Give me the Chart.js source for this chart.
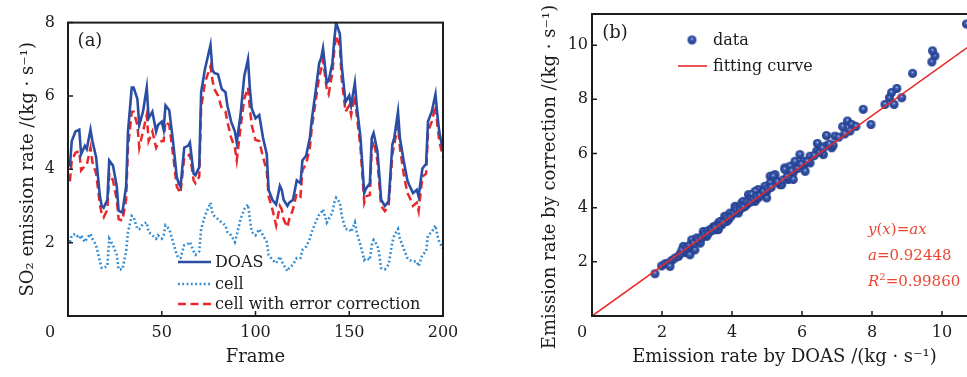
<!DOCTYPE html>
<html>
<head>
<meta charset="utf-8">
<script src="https://cdn.jsdelivr.net/npm/chart.js@4.4.1/dist/chart.umd.min.js"></script>
<style>
  html, body { margin: 0; padding: 0; background: #fff; overflow: hidden; width: 967px; height: 377px; }
  #wrapA { position: absolute; left: 0; top: 0; width: 480px; height: 377px; }
  #wrapB { position: absolute; left: 480px; top: 0; width: 530px; height: 377px; }
  canvas { display: block; }
</style>
</head>
<body>
<div id="wrapA"><canvas id="chartA" width="480" height="377"></canvas></div>
<div id="wrapB"><canvas id="chartB" width="530" height="377"></canvas></div>
<script>
// ---- (a) SO2 emission rate per frame ----
const frames = [1,2,4,6,7,9,10,12,13,15,
  17,18,19,21,22,24,26,27,29,31,
  32,34,35,37,38,40,42,43,45,47,
  48,50,51,52,54,56,58,59,60,62,
  64,65,67,68,70,71,73,76,77,78,
  80,82,84,85,87,89,90,92,94,96,
  97,98,100,102,104,106,107,109,111,113,
  114,115,117,118,120,122,124,125,127,129,
  130,132,134,135,136,138,139,141,142,143,
  145,146,148,150,151,153,154,156,158,159,
  161,162,163,165,166,167,169,171,173,174,
  176,177,179,181,182,184,186,187,189,191,
  192,194,196,197,198,200];

const doasRate = [4.07,4.77,5.03,5.08,4.41,4.64,4.55,5.08,4.77,4.33,
  3.27,3.00,2.95,3.17,4.24,4.10,3.54,2.87,2.82,3.54,
  5.03,6.23,6.23,5.92,5.21,5.57,6.23,5.39,5.57,5.03,
  5.21,5.30,5.08,5.74,5.61,4.77,3.80,3.62,3.53,4.59,
  4.64,4.73,3.88,3.84,4.06,6.10,6.72,7.39,6.72,6.63,
  6.59,6.19,6.10,5.74,5.30,5.03,4.73,5.48,6.54,7.00,
  6.19,5.66,5.39,5.48,4.86,4.41,3.44,3.17,3.04,3.55,
  3.44,3.17,3.00,3.09,3.17,3.70,3.62,4.24,4.37,4.86,
  5.35,6.10,6.90,7.03,7.30,6.36,6.41,6.90,7.52,8.00,
  7.69,6.81,5.83,6.01,5.74,6.36,5.74,4.86,3.35,3.48,
  3.62,4.86,4.99,4.50,3.88,3.17,3.00,3.13,4.68,4.86,
  5.57,4.86,4.24,3.70,3.57,3.35,3.44,3.26,4.02,4.15,
  5.30,5.57,6.05,5.48,5.03,4.50];

const cellRate = [2.02,2.20,2.24,2.11,2.20,2.02,2.11,2.24,2.11,1.93,
  1.49,1.31,1.31,1.36,2.11,1.93,1.67,1.27,1.27,1.76,
  2.29,2.73,2.70,2.37,2.37,2.51,2.55,2.29,2.20,2.11,
  2.20,2.11,2.20,2.47,2.37,2.02,1.67,1.58,1.58,1.93,
  1.97,2.02,1.76,1.67,1.76,2.37,2.73,3.09,2.82,2.73,
  2.64,2.55,2.47,2.29,2.20,2.02,2.20,2.64,2.91,3.04,
  2.64,2.29,2.20,2.37,2.20,2.02,1.67,1.53,1.44,1.62,
  1.49,1.40,1.22,1.31,1.40,1.58,1.58,1.80,1.89,2.11,
  2.29,2.55,2.77,2.82,2.91,2.55,2.64,2.82,3.09,3.22,
  3.09,2.73,2.37,2.37,2.29,2.55,2.29,1.93,1.53,1.58,
  1.53,1.93,2.07,1.93,1.67,1.31,1.27,1.40,2.02,2.20,
  2.37,2.11,1.84,1.58,1.53,1.49,1.49,1.36,1.67,1.76,
  2.20,2.29,2.47,2.20,2.02,1.84];

const correctedRate = [3.67,4.24,4.45,4.50,3.97,4.10,4.12,4.59,4.20,3.88,
  3.05,2.77,2.69,2.90,3.88,3.70,3.17,2.64,2.60,3.17,
  4.59,5.57,5.57,5.21,4.59,5.03,5.48,4.77,5.03,4.59,
  4.70,4.77,4.77,5.30,5.21,4.41,3.53,3.44,3.35,4.33,
  4.37,4.41,3.70,3.62,3.80,5.66,6.36,6.81,6.45,6.19,
  6.01,5.66,5.57,5.30,4.86,4.59,4.24,5.12,5.92,6.23,
  5.66,5.20,4.80,4.77,4.33,3.97,3.26,2.91,2.47,3.00,
  2.91,2.64,2.42,2.64,2.91,3.35,3.26,3.97,4.15,4.59,
  5.12,5.83,6.54,6.72,6.99,6.19,6.05,6.63,7.25,7.65,
  7.34,6.45,5.57,5.74,5.48,6.01,5.48,4.59,3.09,3.26,
  3.30,4.59,4.77,4.24,3.62,3.00,2.86,3.00,4.41,4.68,
  5.21,4.59,3.88,3.35,3.26,3.00,3.09,2.86,3.80,3.88,
  5.03,5.30,5.74,5.21,4.77,4.33];

const seriesNames = ['DOAS', 'cell', 'cell with error correction'];
const frameTicks = [0, 50, 100, 150, 200];
const rateTicksA = [0, 2, 4, 6, 8];

// ---- (b) corrected rate against DOAS rate ----
const scatterDoas = [1.80,1.99,2.09,2.18,2.28,2.23,2.37,2.47,2.61,2.66,
  2.75,2.85,2.80,2.94,2.99,3.09,3.18,3.28,3.37,3.47,
  3.56,3.61,3.71,3.80,3.90,3.99,4.09,4.18,4.28,4.37,
  4.47,4.56,4.66,4.75,4.89,4.99,5.09,5.23,5.37,5.51,
  5.18,5.28,5.42,5.09,4.94,4.99,4.85,4.66,4.56,4.75,
  4.51,4.32,4.42,4.23,4.09,4.18,3.94,3.80,3.85,3.66,
  3.51,3.47,3.61,3.28,3.18,3.09,5.51,5.66,5.80,5.75,
  5.61,5.75,6.04,6.09,5.94,6.04,6.23,6.23,6.42,6.61,
  6.44,6.66,6.85,6.70,6.94,6.89,7.16,7.30,7.42,7.37,
  7.54,7.75,7.97,8.37,8.50,8.56,8.71,8.63,8.85,9.16,
  9.71,9.80,9.73,10.70,
  2.52,2.57,2.70,2.78,2.90,3.02,3.12,3.22,3.32,3.42,
  3.52,3.66,3.75,3.86,3.96,4.05,4.14,4.24,4.33,4.42,
  4.52,4.61,4.70,4.80,4.90,5.02,5.12,5.30,5.45,5.58,
  5.70,5.88,5.98,6.15,6.35,6.50,6.58,6.78,7.05,7.22];

const scatterCorrected = [1.56,1.85,1.93,1.95,2.05,1.83,2.14,2.20,2.57,2.34,
  2.44,2.81,2.26,2.44,2.88,2.75,3.12,2.94,3.19,3.29,
  3.19,3.43,3.37,3.68,3.56,3.74,4.05,3.86,4.17,4.05,
  4.48,4.36,4.23,4.67,4.54,4.36,5.16,5.22,4.85,5.47,
  5.16,4.97,4.85,4.91,4.79,4.60,4.54,4.60,4.48,4.36,
  4.30,4.23,4.11,4.05,3.99,3.80,3.80,3.68,3.49,3.49,
  3.31,3.19,3.19,3.12,2.94,2.69,5.41,5.53,5.71,5.29,
  5.04,5.04,5.53,5.34,5.96,5.71,5.90,5.65,6.09,5.96,
  6.37,6.27,6.21,6.66,6.64,6.30,6.99,7.20,7.07,6.83,
  7.00,7.63,7.07,7.81,8.06,8.25,8.40,7.81,8.06,8.96,
  9.38,9.60,9.79,10.78,
  2.30,2.43,2.52,2.60,2.68,2.80,2.90,3.00,3.05,3.15,
  3.25,3.35,3.45,3.62,3.66,3.80,3.92,3.95,4.02,4.20,
  4.20,4.30,4.40,4.45,4.60,4.70,4.75,4.95,5.02,5.15,
  5.35,5.45,5.60,5.70,5.92,6.05,6.20,6.35,6.60,6.72];

const fitSlope = 0.92448;
const fitR2 = 0.99860;
const fitX = [0, 11];
const doasTicksB = [0, 2, 4, 6, 8, 10];

// ---- shared styling ----
const SERIF = '"DejaVu Serif", "Liberation Serif", serif';
const INK = '#1c1c1c';
const BLUE = '#2b4ea5';
const SKY = '#2e8bd2';
const RED = '#e8282b';
const NOTE_RED = '#ea4633';

// shaded round marker used for the scatter points
function shadedDot(r) {
  const s = Math.ceil(r * 2) + 2;
  const c = document.createElement('canvas');
  c.width = s; c.height = s;
  const g = c.getContext('2d');
  const cx = s / 2, cy = s / 2;
  const grad = g.createRadialGradient(cx - r * 0.05, cy - r * 0.3, r * 0.02, cx, cy, r);
  grad.addColorStop(0, '#f2f5fb');
  grad.addColorStop(0.16, '#5d7cc6');
  grad.addColorStop(0.45, '#3353a8');
  grad.addColorStop(1, '#213b8a');
  g.fillStyle = grad;
  g.beginPath(); g.arc(cx, cy, r, 0, Math.PI * 2); g.fill();
  return c;
}
const dotImg = shadedDot(4.5);

// closed frame around the plot area with inward ticks on the left and bottom axes
const frameBox = {
  id: 'frameBox',
  afterDatasetsDraw(chart, args, o) {
    const { ctx, chartArea: a } = chart;
    ctx.save();
    ctx.strokeStyle = INK;
    ctx.lineWidth = o.width || 2;
    ctx.strokeRect(a.left, a.top, a.right - a.left, a.bottom - a.top);
    ctx.lineWidth = 1.5;
    const len = o.tick || 5;
    const xs = chart.scales.x, ys = chart.scales.y;
    ctx.beginPath();
    xs.ticks.forEach(t => { const p = xs.getPixelForValue(t.value); ctx.moveTo(p, a.bottom); ctx.lineTo(p, a.bottom - len); });
    ys.ticks.forEach(t => { const p = ys.getPixelForValue(t.value); ctx.moveTo(a.left, p); ctx.lineTo(a.left + len, p); });
    ctx.stroke();
    ctx.restore();
  }
};

// panel tag, shared origin label, side title, in-plot legend and fit note
const panelDecor = {
  id: 'panelDecor',
  afterDraw(chart, args, o) {
    const { ctx, chartArea: a } = chart;
    ctx.save();
    ctx.fillStyle = INK;
    ctx.textBaseline = 'middle';
    ctx.textAlign = 'center';
    ctx.font = `18px ${SERIF}`;
    ctx.fillText(o.tag, a.left + o.tagDx, a.top + o.tagDy);
    ctx.font = `16px ${SERIF}`;
    ctx.fillText('0', a.left + o.zeroDx, a.bottom + o.zeroDy);

    if (o.sideTitle) {
      ctx.save();
      ctx.font = `18px ${SERIF}`;
      ctx.translate(a.left + o.sideTitle.dx, (a.top + a.bottom) / 2 + o.sideTitle.dy);
      ctx.rotate(-Math.PI / 2);
      ctx.fillText(o.sideTitle.text, 0, 0);
      ctx.restore();
    }

    // legend
    const L = o.legend;
    ctx.textAlign = 'left';
    L.order.forEach((di, row) => {
      const ds = chart.data.datasets[di];
      const y = (L.fromBottom ? a.bottom : a.top) + L.rows[row];
      if (ds.pointStyle && ds.showLine === false) {
        const img = ds.pointStyle;
        ctx.drawImage(img, a.left + L.markX - img.width / 2, y - img.height / 2);
      } else {
        ctx.save();
        ctx.strokeStyle = ds.borderColor;
        ctx.lineWidth = ds.borderWidth;
        ctx.setLineDash(ds.borderDash || []);
        ctx.lineCap = ds.borderCapStyle || 'butt';
        ctx.beginPath();
        ctx.moveTo(a.left + L.lineX0, y);
        ctx.lineTo(a.left + L.lineX1, y);
        ctx.stroke();
        ctx.restore();
      }
      ctx.fillStyle = INK;
      ctx.font = `16px ${SERIF}`;
      ctx.fillText(ds.label, a.left + L.textX, y + 1);
    });

    // fit note
    if (o.note) {
      ctx.fillStyle = NOTE_RED;
      o.note.lines.forEach((segs, i) => {
        let x = a.left + o.note.x;
        const y = a.bottom + o.note.rows[i];
        segs.forEach(([txt, style]) => {
          ctx.font = `${style === 'i' ? 'italic ' : ''}15px ${SERIF}`;
          if (style === 'sup') {
            ctx.font = `10px ${SERIF}`;
            ctx.fillText(txt, x, y - 5);
          } else {
            ctx.fillText(txt, x, y);
          }
          x += ctx.measureText(txt).width;
        });
      });
    }
    ctx.restore();
  }
};

function tickFont() { return { family: SERIF, size: 16 }; }
function titleFont() { return { family: SERIF, size: 18 }; }
const hideZero = v => (v === 0 ? '' : v);

// ---------- chart (a) ----------
const pts = arr => frames.map((f, i) => ({ x: f, y: arr[i] }));
new Chart(document.getElementById('chartA'), {
  type: 'line',
  data: {
    datasets: [
      { label: seriesNames[0], data: pts(doasRate), borderColor: BLUE, borderWidth: 2.6, pointRadius: 0, tension: 0 },
      { label: seriesNames[1], data: pts(cellRate), borderColor: SKY, borderWidth: 2.6, borderDash: [1.8, 2.5], pointRadius: 0, tension: 0 },
      { label: seriesNames[2], data: pts(correctedRate), borderColor: RED, borderWidth: 2.5, borderDash: [8, 4.5], pointRadius: 0, tension: 0 }
    ]
  },
  options: {
    responsive: false,
    animation: false,
    devicePixelRatio: 1,
    layout: { padding: { top: 15, right: 37, left: 0, bottom: 0 } },
    plugins: {
      legend: { display: false },
      tooltip: { enabled: false },
      frameBox: { width: 2, tick: 5 },
      panelDecor: {
        tag: '(a)', tagDx: 22, tagDy: 19, zeroDx: -18, zeroDy: 17,
        legend: { order: [0, 1, 2], fromBottom: true, rows: [-54, -32, -12], lineX0: 110, lineX1: 143, markX: 126, textX: 147 }
      }
    },
    scales: {
      x: {
        type: 'linear', min: 0, max: 200,
        grid: { display: false, drawTicks: false }, border: { display: false },
        afterBuildTicks(s) { s.ticks = frameTicks.map(v => ({ value: v })); },
        ticks: { padding: 7, color: INK, font: tickFont(), maxRotation: 0, callback: hideZero },
        title: { display: true, text: 'Frame', color: INK, font: titleFont(), padding: { top: 0, bottom: 9 } },
        afterFit(s) { s.height = 61; }
      },
      y: {
        type: 'linear', min: 0, max: 8,
        grid: { display: false, drawTicks: false }, border: { display: false },
        afterBuildTicks(s) { s.ticks = rateTicksA.map(v => ({ value: v })); },
        ticks: { padding: 13, color: INK, font: tickFont(), callback: hideZero },
        title: { display: true, text: 'SO₂ emission rate /(kg · s⁻¹)', color: INK, font: titleFont(), padding: { top: 18, bottom: 0 } },
        afterFit(s) { s.width = 68; }
      }
    }
  },
  plugins: [frameBox, panelDecor]
});

// ---------- chart (b) ----------
new Chart(document.getElementById('chartB'), {
  type: 'scatter',
  data: {
    datasets: [
      { type: 'line', label: 'fitting curve', data: fitX.map(x => ({ x, y: fitSlope * x })),
        borderColor: RED, borderWidth: 1.6, pointRadius: 0, order: 0 },
      { label: 'data', data: scatterDoas.map((x, i) => ({ x, y: scatterCorrected[i] })),
        pointStyle: dotImg, pointRadius: 4.5, showLine: false, order: 1 }
    ]
  },
  options: {
    responsive: false,
    animation: false,
    devicePixelRatio: 1,
    layout: { padding: { top: 14, right: 33, left: 0, bottom: 0 } },
    plugins: {
      legend: { display: false },
      tooltip: { enabled: false },
      frameBox: { width: 2, tick: 5 },
      panelDecor: {
        tag: '(b)', tagDx: 23, tagDy: 19, zeroDx: -10, zeroDy: 17,
        sideTitle: { text: 'Emission rate by correction /(kg · s⁻¹)', dx: -42, dy: 12 },
        legend: { order: [1, 0], fromBottom: false, rows: [26, 52], lineX0: 86, lineX1: 115, markX: 100, textX: 121 },
        note: {
          x: 276, rows: [-86, -60, -34],
          lines: [
            [['y', 'i'], ['(', 'n'], ['x', 'i'], [')=', 'n'], ['ax', 'i']],
            [['a', 'i'], ['=' + fitSlope.toFixed(5), 'n']],
            [['R', 'i'], ['2', 'sup'], ['=' + fitR2.toFixed(5), 'n']]
          ]
        }
      }
    },
    scales: {
      x: {
        type: 'linear', min: 0, max: 11,
        grid: { display: false, drawTicks: false }, border: { display: false },
        afterBuildTicks(s) { s.ticks = doasTicksB.map(v => ({ value: v })); },
        ticks: { padding: 7, color: INK, font: tickFont(), maxRotation: 0, callback: hideZero },
        title: { display: true, text: 'Emission rate by DOAS /(kg · s⁻¹)', color: INK, font: titleFont(), padding: { top: 0, bottom: 9 } },
        afterFit(s) { s.height = 61; }
      },
      y: {
        type: 'linear', min: 0, max: 11.15,
        grid: { display: false, drawTicks: false }, border: { display: false },
        afterBuildTicks(s) { s.ticks = doasTicksB.map(v => ({ value: v })); },
        ticks: { padding: 4, color: INK, font: tickFont(), callback: hideZero },
        title: { display: false },
        afterFit(s) { s.width = 112; }
      }
    }
  },
  plugins: [frameBox, panelDecor]
});
</script>
</body>
</html>
